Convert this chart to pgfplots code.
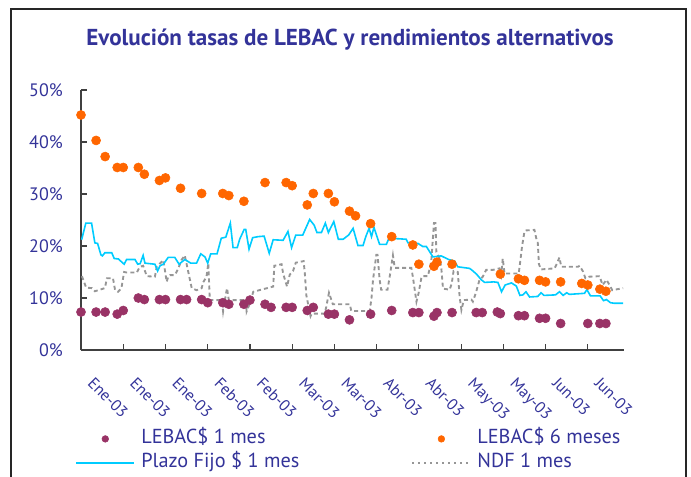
\documentclass[border=0pt]{standalone}
\usepackage{fontspec}
\setmainfont{PT Sans}
\usepackage{pgfplots}
\pgfplotsset{compat=1.18}
\definecolor{txtblue}{HTML}{333399}
\definecolor{lebacone}{HTML}{993366}
\definecolor{lebacsix}{HTML}{FF6600}
\definecolor{pfcyan}{HTML}{00CCFF}
\definecolor{ndfgray}{HTML}{969696}
\definecolor{axgray}{HTML}{404040}
\begin{document}
\begin{tikzpicture}
\useasboundingbox (0pt,0pt) rectangle (518.25pt,357pt);
\draw[line width=1.1pt, black!85] (8.25pt,-5pt) -- (8.25pt,350.25pt) -- (514.5pt,350.25pt) -- (514.5pt,-5pt);
\node[font=\bfseries\fontsize{17.3pt}{19pt}\selectfont, text=txtblue] at (262.5pt,327pt) {Evolución tasas de LEBAC y rendimientos alternativos};
\begin{axis}[
  at={(60.75pt,94.5pt)}, anchor=south west,
  scale only axis, width=407.25pt, height=195pt,
  xmin=0, xmax=180, ymin=0, ymax=50,
  axis x line*=bottom, axis y line*=left,
  axis line style={-, axgray, line width=1.1pt},
  tick style={axgray, line width=0.9pt},
  tick align=inside, major tick length=4.5pt,
  xtick={0,14,...,168},
  xticklabels={Ene-03,Ene-03,Ene-03,Feb-03,Feb-03,Mar-03,Mar-03,Abr-03,Abr-03,May-03,May-03,Jun-03,Jun-03},
  ytick={0,10,...,50},
  yticklabels={0\%,10\%,20\%,30\%,40\%,50\%},
  xticklabel style={font=\fontsize{12pt}{13pt}\selectfont, text=txtblue, xshift=10.5pt, yshift=-19.5pt, rotate=-45, anchor=north west, inner sep=0pt},
  yticklabel style={font=\fontsize{13.5pt}{15pt}\selectfont, text=txtblue, anchor=east, inner sep=0pt, xshift=-13.5pt},
  clip=false,
  legend columns=2,
  legend cell align=left,
  legend image code/.code={\draw[mark repeat=2,mark phase=2,#1] plot coordinates {(0pt,0pt) (21.75pt,0pt) (43.5pt,0pt)};},
  legend style={at={(axis description cs:-0.011,-0.295)}, anchor=north west, draw=none, fill=none, inner sep=0pt,
    font=\fontsize{15.2pt}{17pt}\selectfont, text=txtblue,
    nodes={inner sep=2pt, text height=10.7pt, text depth=3.2pt},
    /tikz/every odd column/.append style={column sep=2.5pt},
    /tikz/every even column/.append style={column sep=82pt}},
]
\addlegendimage{only marks, mark=*, mark size=2.5pt, lebacone}
\addlegendentry{LEBAC\$ 1 mes}
\addlegendimage{only marks, mark=*, mark size=2.5pt, lebacsix}
\addlegendentry{LEBAC\$ 6 meses}
\addlegendimage{pfcyan, line width=1.5pt}
\addlegendentry{Plazo Fijo \$ 1 mes}
\addlegendimage{ndfgray, line width=1.5pt, dash pattern=on 1.5pt off 3pt}
\addlegendentry{NDF 1 mes}

% NDF 1 mes
\addplot[forget plot, ndfgray, line width=1.4pt, dash pattern=on 3pt off 2.3pt] coordinates {
(0.3,14.2)(1.7,12.0)(3.6,11.9)(4.6,11.3)(7.9,11.9)(8.6,13.8)(10.6,13.8)(11.3,11.5)(12.3,11.2)(13.4,11.9)
(14.3,15.0)(15.2,14.9)(18.5,14.9)(19.5,16.0)(20.6,16.2)(21.8,14.2)(24.5,14.1)(25.1,16.0)(27.3,17.3)(28.4,13.1)
(28.9,14.1)(29.5,14.4)(31.1,14.4)(32.2,15.6)(33.3,17.3)(34.4,18.2)(36.7,11.9)(38.3,11.5)(40.0,11.9)(40.5,13.0)
(41.6,14.1)(42.2,16.7)(42.7,9.6)(46.7,9.6)(47.1,7.4)(47.7,9.6)(48.4,11.9)(49.0,9.6)(54.6,9.6)(54.9,7.4)
(56.0,9.0)(57.1,11.2)(63.7,12.2)(64.1,16.2)(66.5,16.5)(67.0,14.7)(68.3,12.2)(69.2,14.5)(70.3,15.2)(71.2,16.8)
(73.8,17.1)(74.2,14.7)(74.7,10.5)(76.1,6.5)(76.5,7.0)(80.8,7.0)(81.3,8.3)(82.2,11.0)(83.5,8.8)(89.1,8.8)
(89.6,7.5)(95.7,7.5)(96.3,10.0)(96.8,13.5)(97.9,18.3)(98.3,18.3)(99.0,13.5)(99.5,11.6)(101.6,11.6)(102.3,14.0)
(103.4,18.2)(104.0,15.8)(109.5,15.8)(110.0,14.1)(111.2,9.3)(111.9,10.9)(112.8,13.8)(113.1,14.2)(115.0,14.2)(116.1,17.0)
(117.0,24.4)(117.5,24.4)(117.8,18.8)(118.9,17.6)(119.4,16.0)(120.0,11.8)(122.2,11.6)(122.9,12.8)(123.5,15.2)(124.9,15.0)
(125.5,10.3)(126.1,7.7)(126.9,9.6)(129.4,9.7)(129.9,9.3)(131.0,11.2)(132.1,13.5)(133.2,14.1)(134.3,15.4)(136.5,15.4)
(138.7,15.7)(139.3,14.4)(139.8,17.6)(140.4,14.7)(145.1,14.7)(145.6,17.0)(146.2,19.9)(147.0,22.8)(147.6,23.0)(150.3,23.1)
(150.9,21.5)(151.4,20.8)(151.8,16.5)(152.5,15.5)(157.0,15.7)(157.5,16.3)(158.6,17.8)(159.2,16.0)(164.7,16.0)(165.3,16.2)
(166.4,15.1)(167.2,13.8)(168.5,14.1)(171.9,14.2)(172.9,12.5)(174.2,13.5)(175.2,12.5)(176.1,11.5)(179.7,11.9)
};

% Plazo Fijo $ 1 mes
\addplot[forget plot, pfcyan, line width=1.2pt] coordinates {
(0.2,21.2)(1.6,24.4)(3.5,24.4)(4.6,20.6)(5.5,20.5)(6.6,18.3)(7.1,18.1)(7.9,18.7)(10.2,18.7)(11.0,17.6)
(12.4,17.5)(14.3,16.5)(15.1,17.4)(17.9,17.4)(18.8,16.5)(19.6,16.6)(20.6,18.2)(21.2,16.7)(24.5,16.5)(25.4,15.2)
(26.2,16.2)(27.3,16.5)(28.9,17.8)(31.1,17.8)(32.5,16.5)(34.4,17.4)(36.4,16.7)(38.3,16.7)(39.7,18.5)(41.1,17.9)
(42.0,16.7)(43.0,18.5)(45.1,18.5)(46.5,21.5)(48.0,21.7)(49.5,24.4)(50.4,19.7)(51.8,19.7)(52.6,21.3)(54.1,23.2)
(54.6,23.2)(55.7,19.4)(56.9,21.6)(58.7,21.8)(60.7,21.9)(62.4,18.6)(63.7,21.2)(67.0,21.1)(68.6,22.8)(69.8,19.7)
(71.2,22.1)(73.5,22.1)(75.8,25.1)(77.3,24.0)(78.2,22.6)(79.7,22.6)(81.0,24.4)(82.0,22.6)(83.8,24.7)(85.3,21.3)
(86.9,21.3)(88.7,22.1)(90.2,23.4)(91.8,20.1)(93.5,20.1)(94.4,21.8)(95.5,23.4)(96.3,21.8)(97.1,23.6)(98.0,22.0)
(99.0,20.3)(101.2,20.3)(102.1,21.5)(107.8,21.3)(108.4,20.6)(111.7,20.5)(113.3,19.9)(114.5,19.9)(115.9,18.6)(116.7,17.9)
(119.4,18.1)(121.9,17.4)(123.8,17.1)(124.9,16.0)(128.8,15.7)(129.5,15.4)(131.1,14.6)(132.7,13.5)(133.8,13.0)(136.8,13.1)
(138.2,13.0)(139.4,11.2)(140.6,12.5)(142.7,12.9)(144.3,12.3)(145.5,10.5)(146.5,10.6)(147.5,11.2)(148.7,10.2)(151.4,10.3)
(152.5,11.0)(153.5,10.5)(157.3,10.6)(158.6,11.2)(159.8,10.5)(161.0,11.0)(161.9,10.7)(166.9,10.9)(167.7,11.6)(168.9,10.4)
(172.1,10.4)(173.2,9.5)(174.2,9.7)(175.5,9.1)(176.6,9.0)(179.7,9.0)
};

% LEBAC$ 1 mes
\addplot[forget plot, only marks, mark=*, mark size=3.4pt, lebacone, mark options={draw=none, fill=lebacone}] coordinates {
(0,7.3)(5,7.3)(8,7.3)(12,6.9)(14,7.6)(19,10.0)(21,9.7)(26,9.7)(28,9.7)(33,9.7)
(35,9.7)(40,9.7)(42,9.1)(47,9.1)(49,8.8)(54,8.8)(56,9.6)(61,8.8)(63,8.2)(68,8.2)
(70,8.2)(75,7.6)(77,8.2)(82,6.9)(84,6.9)(89,5.8)(96,6.9)(103,7.6)(110,7.2)(112,7.2)
(117,6.5)(118,7.2)(123,7.2)(131,7.2)(133,7.2)(138,7.3)(139,7.0)(145,6.6)(147,6.6)(152,6.1)
(154,6.1)(159,5.1)(168,5.1)(172,5.1)(174,5.1)
};

% LEBAC$ 6 meses
\addplot[forget plot, only marks, mark=*, mark size=3.4pt, lebacsix, mark options={draw=none, fill=lebacsix}] coordinates {
(0,45.2)(5,40.3)(8,37.2)(12,35.1)(14,35.1)(19,35.1)(21,33.8)(26,32.6)(28,33.1)(33,31.1)
(40,30.1)(47,30.1)(49,29.7)(54,28.6)(61,32.2)(68,32.2)(70,31.6)(75,27.9)(77,30.1)(82,30.1)
(84,28.5)(89,26.7)(91,25.8)(96,24.3)(103,21.8)(110,20.2)(112,16.5)(117,16.1)(118,16.9)(123,16.5)
(139,14.6)(145,13.7)(147,13.4)(152,13.4)(154,13.1)(159,13.1)(166,12.8)(168,12.5)(172,11.7)(174,11.3)
};
\end{axis}
\end{tikzpicture}
\end{document}
